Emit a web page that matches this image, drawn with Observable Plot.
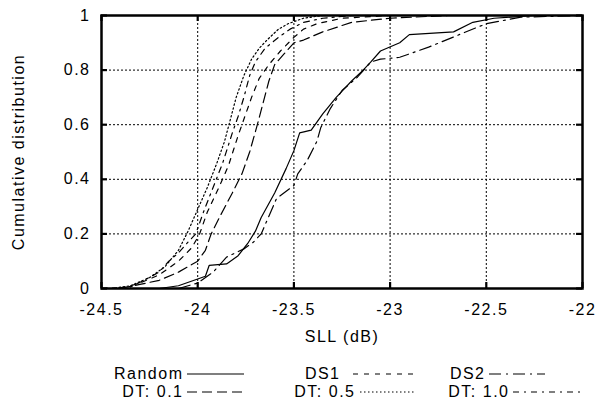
<!DOCTYPE html>
<html><head><meta charset="utf-8">
<script src="https://cdn.jsdelivr.net/npm/d3@7"></script>
<script src="https://cdn.jsdelivr.net/npm/@observablehq/plot@0.6"></script>
<style>
body{margin:0;background:#fff;}
#wrap{width:603px;height:403px;position:relative;font-family:"Liberation Sans",Arial,sans-serif;color:#000;}
#legend{position:relative;width:603px;height:48px;font-size:16px;letter-spacing:1.5px;}
.lab{position:absolute;white-space:nowrap;line-height:18px;height:18px;}
.smp{position:absolute;height:18px;}
</style></head><body><div id="wrap"><div id="chart"></div><div id="legend"></div></div>
<script>
const xTicks = [-24.5, -24, -23.5, -23, -22.5, -22];
const yTicks = [0, 0.2, 0.4, 0.6, 0.8, 1];
const xLabel = "SLL (dB)";
const yLabel = "Cumulative distribution";

const random = [[-24.2,0],[-24.1,0.01],[-24.0,0.035],[-23.96,0.045],[-23.94,0.085],[-23.85,0.09],[-23.79,0.12],[-23.74,0.165],[-23.7,0.21],[-23.67,0.26],[-23.6,0.35],[-23.54,0.44],[-23.5,0.505],[-23.47,0.57],[-23.41,0.58],[-23.35,0.64],[-23.28,0.7],[-23.24,0.73],[-23.2,0.76],[-23.14,0.8],[-23.1,0.83],[-23.05,0.87],[-22.95,0.9],[-22.9,0.93],[-22.67,0.94],[-22.57,0.975],[-22.46,0.99],[-22.25,1.0],[-22.0,1.0]];
const ds1 = [[-24.4,0],[-24.3,0.02],[-24.2,0.05],[-24.1,0.1],[-24.03,0.15],[-23.99,0.2],[-23.95,0.28],[-23.89,0.37],[-23.84,0.45],[-23.79,0.56],[-23.76,0.62],[-23.72,0.7],[-23.68,0.77],[-23.63,0.82],[-23.57,0.87],[-23.5,0.92],[-23.45,0.95],[-23.38,0.97],[-23.25,0.99],[-23.0,1.0],[-22.0,1.0]];
const ds2 = [[-24.1,0],[-24.0,0.02],[-23.92,0.06],[-23.85,0.115],[-23.76,0.145],[-23.71,0.17],[-23.67,0.2],[-23.59,0.33],[-23.5,0.377],[-23.48,0.42],[-23.43,0.47],[-23.38,0.54],[-23.36,0.59],[-23.31,0.66],[-23.25,0.725],[-23.17,0.774],[-23.1,0.83],[-23.05,0.84],[-22.95,0.847],[-22.8,0.884],[-22.63,0.933],[-22.5,0.97],[-22.32,0.994],[-22.0,1.0]];
const dt01 = [[-24.4,0],[-24.3,0.015],[-24.2,0.03],[-24.1,0.06],[-24.0,0.1],[-23.96,0.14],[-23.93,0.2],[-23.88,0.27],[-23.82,0.35],[-23.77,0.42],[-23.73,0.5],[-23.69,0.6],[-23.66,0.68],[-23.63,0.76],[-23.6,0.82],[-23.55,0.86],[-23.5,0.9],[-23.45,0.91],[-23.35,0.94],[-23.2,0.975],[-23.0,0.99],[-22.7,1.0],[-22.0,1.0]];
const dt05 = [[-24.45,0],[-24.35,0.01],[-24.25,0.04],[-24.17,0.08],[-24.1,0.14],[-24.05,0.21],[-24.0,0.29],[-23.95,0.37],[-23.9,0.46],[-23.86,0.54],[-23.83,0.62],[-23.8,0.7],[-23.76,0.78],[-23.72,0.84],[-23.68,0.88],[-23.64,0.91],[-23.58,0.95],[-23.53,0.97],[-23.45,0.99],[-23.35,1.0],[-22.0,1.0]];
const dt10 = [[-24.5,0],[-24.35,0.005],[-24.28,0.03],[-24.2,0.06],[-24.15,0.1],[-24.1,0.13],[-24.05,0.17],[-24.01,0.2],[-23.97,0.28],[-23.92,0.37],[-23.87,0.46],[-23.82,0.57],[-23.79,0.63],[-23.76,0.7],[-23.73,0.78],[-23.7,0.83],[-23.65,0.88],[-23.58,0.92],[-23.52,0.95],[-23.45,0.975],[-23.35,0.99],[-23.2,1.0],[-22.0,1.0]];

const seriesNames = ["Random", "DS1", "DS2", "DT: 0.1", "DT: 0.5", "DT: 1.0"];
const seriesData = [random, ds1, ds2, dt01, dt05, dt10];
const seriesDash = [null, "5,6", "12,5,2,5", "10,5", "1.5,2.5", "6,5,2,5"];

const font = '"Liberation Sans", Arial, sans-serif';
const lineMarks = seriesData.map((d, i) => Plot.line(d, {
  x: p => p[0], y: p => p[1], stroke: "black", strokeWidth: 1.2,
  strokeDasharray: seriesDash[i] || undefined
}));

const chart = Plot.plot({
  width: 603, height: 355,
  marginLeft: 101, marginRight: 21, marginTop: 15, marginBottom: 67,
  x: {domain: [-24.5, -22]},
  y: {domain: [0, 1]},
  style: {fontFamily: font, fontSize: "16px", letterSpacing: "1.5px", color: "black", background: "white", overflow: "visible"},
  marks: [
    Plot.gridX(xTicks, {stroke: "black", strokeOpacity: 1, strokeWidth: 1, strokeDasharray: "2,2"}),
    Plot.gridY(yTicks, {stroke: "black", strokeOpacity: 1, strokeWidth: 1, strokeDasharray: "2,2"}),
    ...lineMarks,
    Plot.ruleX(xTicks, {x: d => d, y1: 0, y2: 0.022, strokeWidth: 2.2}),
    Plot.ruleX(xTicks, {x: d => d, y1: 1, y2: 0.978, strokeWidth: 2.2}),
    Plot.ruleY(yTicks, {y: d => d, x1: -24.5, x2: -24.469, strokeWidth: 2.2}),
    Plot.ruleY(yTicks, {y: d => d, x1: -22, x2: -22.031, strokeWidth: 2.2}),
    Plot.axisX(xTicks, {tickSize: 0, tickPadding: 15, tickFormat: d => String(d), label: null, fontSize: 16}),
    Plot.axisY(yTicks, {tickSize: 0, tickPadding: 11, tickFormat: d => String(d), label: null, fontSize: 16}),
    Plot.frame({strokeWidth: 2.5}),
    Plot.text([xLabel], {frameAnchor: "bottom", dy: 53, fontSize: 16}),
    Plot.text([yLabel], {frameAnchor: "left", textAnchor: "middle", dx: -83, rotate: -90, fontSize: 16})
  ]
});
document.getElementById("chart").appendChild(chart);

// legend layout (text right edge, sample start/end, row centre)
const legendLayout = [
  {right: 182, s0: 187, s1: 244, row: 19},
  {right: 339, s0: 353, s1: 416, row: 19},
  {right: 484, s0: 489, s1: 545, row: 19},
  {right: 182, s0: 187, s1: 243, row: 37},
  {right: 354, s0: 360, s1: 415, row: 37},
  {right: 508, s0: 513, s1: 583, row: 37}
];
const legend = document.getElementById("legend");
seriesNames.forEach((name, i) => {
  const L = legendLayout[i];
  const t = document.createElement("div");
  t.className = "lab";
  t.textContent = name;
  t.style.right = (603 - L.right - 1.5) + "px";
  t.style.top = (L.row - 9) + "px";
  legend.appendChild(t);
  const svg = d3.create("svg").attr("class", "smp")
    .attr("width", L.s1 - L.s0).attr("height", 18)
    .style("left", L.s0 + "px").style("top", (L.row - 9) + "px");
  svg.append("line").attr("x1", 0).attr("x2", L.s1 - L.s0).attr("y1", 9).attr("y2", 9)
    .attr("stroke", "black").attr("stroke-width", 1.2)
    .attr("stroke-dasharray", seriesDash[i] || null);
  legend.appendChild(svg.node());
});
</script></body></html>
